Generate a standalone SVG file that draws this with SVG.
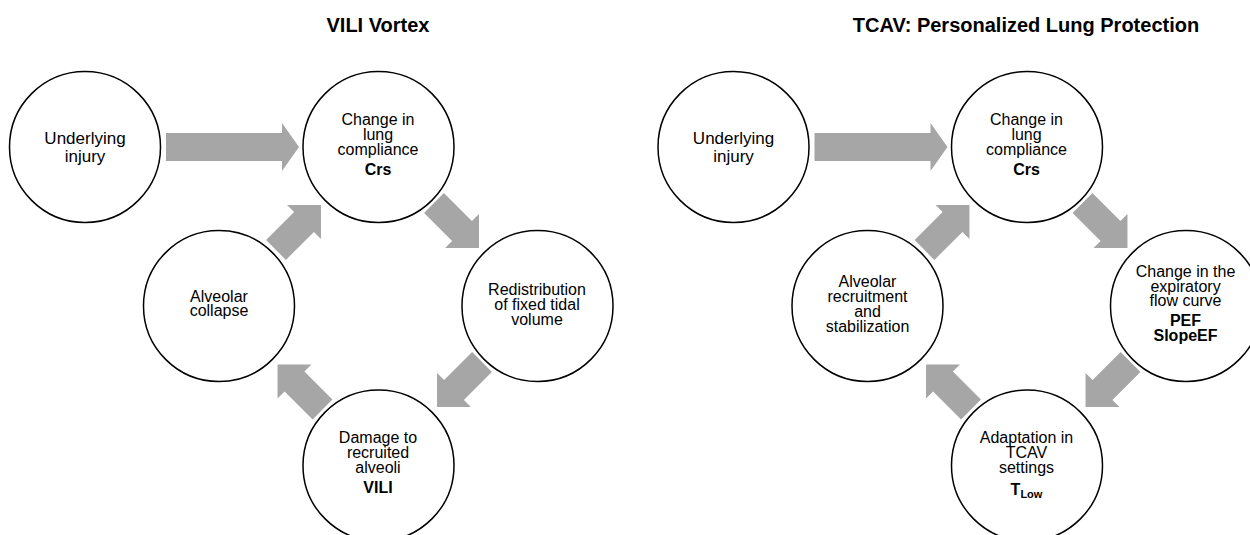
<svg xmlns="http://www.w3.org/2000/svg" width="1250" height="535" viewBox="0 0 1250 535">
<defs>
<style>
.node{fill:#fff;stroke:#000;stroke-width:1.5}
.arr{fill:#a6a6a6;stroke:none}
.t{font-family:"Liberation Sans",Arial,Helvetica,sans-serif;font-size:16px;fill:#000;text-anchor:middle}
.big{font-size:17px}
.b{font-weight:bold}
.title{font-family:"Liberation Sans",Arial,Helvetica,sans-serif;font-size:20px;font-weight:bold;fill:#000;text-anchor:middle}
</style>
<polygon id="harrow" points="0,-14 116,-14 116,-24 133,0 116,24 116,14 0,14"/>
<polygon id="darrow" points="0,-14 39.6,-14 39.6,-24 63.6,0 39.6,24 39.6,14 0,14"/>
</defs>
<rect width="1250" height="535" fill="#fff"/>
<text class="title" x="378" y="32">VILI Vortex</text>
<text class="title" x="1026" y="32">TCAV: Personalized Lung Protection</text>

<g id="connectors">
<use href="#harrow" class="arr" transform="translate(166,147)"/>
<use href="#darrow" class="arr" transform="translate(434,203) rotate(45)"/>
<use href="#darrow" class="arr" transform="translate(482,362) rotate(135)"/>
<use href="#darrow" class="arr" transform="translate(322.5,409.5) rotate(-135)"/>
<use href="#darrow" class="arr" transform="translate(276,250) rotate(-45)"/>
<use href="#harrow" class="arr" transform="translate(814.5,147)"/>
<use href="#darrow" class="arr" transform="translate(1082.5,203) rotate(45)"/>
<use href="#darrow" class="arr" transform="translate(1130.5,362) rotate(135)"/>
<use href="#darrow" class="arr" transform="translate(971,409.5) rotate(-135)"/>
<use href="#darrow" class="arr" transform="translate(924.5,250) rotate(-45)"/>
</g>

<g id="L1">
<circle class="node" cx="85" cy="147" r="75.5"/>
<text class="t big" x="85" y="143.5">Underlying</text>
<text class="t big" x="85" y="161.5">injury</text>
</g>
<g id="L2">
<circle class="node" cx="378.5" cy="147" r="75.5"/>
<text class="t" x="378" y="125">Change in</text>
<text class="t" x="378" y="140">lung</text>
<text class="t" x="378" y="155">compliance</text>
<text class="t b" x="378" y="175">Crs</text>
</g>
<g id="L3">
<circle class="node" cx="537.5" cy="306" r="75.5"/>
<text class="t" x="537" y="295">Redistribution</text>
<text class="t" x="537" y="310">of fixed tidal</text>
<text class="t" x="537" y="324.5">volume</text>
</g>
<g id="L4">
<circle class="node" cx="378.5" cy="465.5" r="75.5"/>
<text class="t" x="378" y="443.3">Damage to</text>
<text class="t" x="378" y="457.8">recruited</text>
<text class="t" x="378" y="472.7">alveoli</text>
<text class="t b" x="378" y="493.3">VILI</text>
</g>
<g id="L5">
<circle class="node" cx="219" cy="306" r="75.5"/>
<text class="t" x="219" y="301.7">Alveolar</text>
<text class="t" x="219" y="316.2">collapse</text>
</g>

<g id="R1">
<circle class="node" cx="733.5" cy="147" r="75.5"/>
<text class="t big" x="733.5" y="143.5">Underlying</text>
<text class="t big" x="733.5" y="161.5">injury</text>
</g>
<g id="R2">
<circle class="node" cx="1027" cy="147" r="75.5"/>
<text class="t" x="1026.5" y="125">Change in</text>
<text class="t" x="1026.5" y="140">lung</text>
<text class="t" x="1026.5" y="155">compliance</text>
<text class="t b" x="1026.5" y="175">Crs</text>
</g>
<g id="R3">
<circle class="node" cx="1186" cy="306" r="75.5"/>
<text class="t" x="1185.5" y="277">Change in the</text>
<text class="t" x="1185.5" y="291.5">expiratory</text>
<text class="t" x="1185.5" y="306">flow curve</text>
<text class="t b" x="1185.5" y="325.5">PEF</text>
<text class="t b" x="1185.5" y="340.5">SlopeEF</text>
</g>
<g id="R4">
<circle class="node" cx="1027" cy="465.5" r="75.5"/>
<text class="t" x="1026.5" y="443.3">Adaptation in</text>
<text class="t" x="1026.5" y="457.8">TCAV</text>
<text class="t" x="1026.5" y="472.7">settings</text>
<text class="t b" x="1026.5" y="495">T<tspan font-size="11" dy="3">Low</tspan></text>
</g>
<g id="R5">
<circle class="node" cx="867.5" cy="306" r="75.5"/>
<text class="t" x="867.5" y="286.7">Alveolar</text>
<text class="t" x="867.5" y="301.7">recruitment</text>
<text class="t" x="867.5" y="316.7">and</text>
<text class="t" x="867.5" y="331.7">stabilization</text>
</g>
</svg>
